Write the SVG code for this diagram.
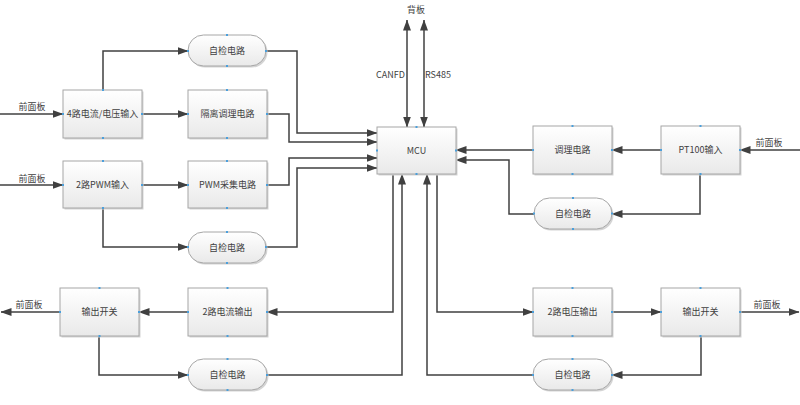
<svg xmlns="http://www.w3.org/2000/svg" width="800" height="405" viewBox="0 0 800 405">
<defs>
<linearGradient id="g" x1="0" y1="0" x2="0" y2="1">
<stop offset="0" stop-color="#ffffff"/>
<stop offset="1" stop-color="#e9e9e9"/>
</linearGradient>
<marker id="a" markerUnits="userSpaceOnUse" markerWidth="11" markerHeight="9" viewBox="0 0 11 9" refX="10.5" refY="4.5" orient="auto-start-reverse">
<path d="M0,0.5 L11,4.5 L0,8.5 z" fill="#404040"/>
</marker>
<style>
.sh{fill:#d4d4d4}
.b{fill:url(#g);stroke:#a6a6a6;stroke-width:1}
.t{font-family:"Noto Sans CJK SC","Liberation Sans",sans-serif;font-size:9px;fill:#3f3f3f;text-anchor:middle}
.l{font-family:"Noto Sans CJK SC","Liberation Sans",sans-serif;font-size:9px;fill:#3f3f3f}
.c{fill:none;stroke:#404040;stroke-width:1.5}
.p{fill:#4a9fdc}
</style>
</defs>
<rect width="800" height="405" fill="#ffffff"/>

<g id="connectors">
<path class="c" d="M0,114 H63" marker-end="url(#a)"/>
<path class="c" d="M103,90 V51 H188" marker-end="url(#a)"/>
<path class="c" d="M142,114 H188" marker-end="url(#a)"/>
<path class="c" d="M267,51 H297 V133 H377" marker-end="url(#a)"/>
<path class="c" d="M267,114 H289 V142 H377" marker-end="url(#a)"/>
<path class="c" d="M0,185 H63" marker-end="url(#a)"/>
<path class="c" d="M142,185 H188" marker-end="url(#a)"/>
<path class="c" d="M103,209 V247 H188" marker-end="url(#a)"/>
<path class="c" d="M267,185 H289 V158 H377" marker-end="url(#a)"/>
<path class="c" d="M267,247 H297 V168 H377" marker-end="url(#a)"/>
<path class="c" d="M407,20 V127" marker-start="url(#a)" marker-end="url(#a)"/>
<path class="c" d="M424,20 V127" marker-start="url(#a)" marker-end="url(#a)"/>
<path class="c" d="M800,150 H740" marker-end="url(#a)"/>
<path class="c" d="M661,150 H612" marker-end="url(#a)"/>
<path class="c" d="M533,150 H456" marker-end="url(#a)"/>
<path class="c" d="M700,174 V214 H612" marker-end="url(#a)"/>
<path class="c" d="M534,214 H509 V160 H456" marker-end="url(#a)"/>
<path class="c" d="M393,174 V312 H267" marker-end="url(#a)"/>
<path class="c" d="M188,312 H139" marker-end="url(#a)"/>
<path class="c" d="M60,312 H1" marker-end="url(#a)"/>
<path class="c" d="M99,336 V375 H188" marker-end="url(#a)"/>
<path class="c" d="M267,375 H402 V174" marker-end="url(#a)"/>
<path class="c" d="M437,174 V312 H533" marker-end="url(#a)"/>
<path class="c" d="M612,312 H661" marker-end="url(#a)"/>
<path class="c" d="M740,312 H799" marker-end="url(#a)"/>
<path class="c" d="M701,336 V375 H612" marker-end="url(#a)"/>
<path class="c" d="M533,375 H427 V174" marker-end="url(#a)"/>
</g>

<g id="labels">
<text class="t" x="416" y="13">背板</text>
<text class="l" x="405" y="78" text-anchor="end">CANFD</text>
<text class="l" x="425" y="78">RS485</text>
<text class="t" x="32" y="110">前面板</text>
<text class="t" x="32" y="182">前面板</text>
<text class="t" x="769" y="146">前面板</text>
<text class="t" x="29" y="308">前面板</text>
<text class="t" x="767" y="308">前面板</text>
</g>

<g id="n_zijian1">
<rect class="sh" x="189.5" y="36.5" width="78" height="31" rx="15.5"/>
<rect class="b" x="188" y="35" width="78" height="31" rx="15.5"/>
<text class="t" x="227" y="54">自检电路</text>
<rect class="p" x="226" y="34" width="2" height="2"/><rect class="p" x="226" y="65" width="2" height="2"/><rect class="p" x="187" y="50" width="2" height="2"/><rect class="p" x="265" y="50" width="2" height="2"/>
</g>

<g id="n_input4">
<rect class="sh" x="64.5" y="91.5" width="79" height="48"/>
<rect class="b" x="63" y="90" width="79" height="48"/>
<text class="t" x="102.5" y="117">4路电流/电压输入</text>
<rect class="p" x="102" y="89" width="2" height="2"/><rect class="p" x="102" y="137" width="2" height="2"/><rect class="p" x="62" y="113" width="2" height="2"/><rect class="p" x="141" y="113" width="2" height="2"/>
</g>

<g id="n_geli">
<rect class="sh" x="189.5" y="91.5" width="79" height="48"/>
<rect class="b" x="188" y="90" width="79" height="48"/>
<text class="t" x="227.5" y="117">隔离调理电路</text>
<rect class="p" x="226" y="89" width="2" height="2"/><rect class="p" x="226" y="137" width="2" height="2"/><rect class="p" x="187" y="113" width="2" height="2"/><rect class="p" x="266" y="113" width="2" height="2"/>
</g>

<g id="n_pwmin">
<rect class="sh" x="64.5" y="162.5" width="79" height="47"/>
<rect class="b" x="63" y="161" width="79" height="47"/>
<text class="t" x="102.5" y="188">2路PWM输入</text>
<rect class="p" x="102" y="160" width="2" height="2"/><rect class="p" x="102" y="207" width="2" height="2"/><rect class="p" x="62" y="184" width="2" height="2"/><rect class="p" x="141" y="184" width="2" height="2"/>
</g>

<g id="n_pwmcj">
<rect class="sh" x="189.5" y="162.5" width="79" height="47"/>
<rect class="b" x="188" y="161" width="79" height="47"/>
<text class="t" x="227.5" y="188">PWM采集电路</text>
<rect class="p" x="226" y="160" width="2" height="2"/><rect class="p" x="226" y="207" width="2" height="2"/><rect class="p" x="187" y="184" width="2" height="2"/><rect class="p" x="266" y="184" width="2" height="2"/>
</g>

<g id="n_zijian2">
<rect class="sh" x="189.5" y="233.5" width="78" height="31" rx="15.5"/>
<rect class="b" x="188" y="232" width="78" height="31" rx="15.5"/>
<text class="t" x="227" y="251">自检电路</text>
<rect class="p" x="226" y="231" width="2" height="2"/><rect class="p" x="226" y="262" width="2" height="2"/><rect class="p" x="187" y="246" width="2" height="2"/><rect class="p" x="265" y="246" width="2" height="2"/>
</g>

<g id="n_mcu">
<rect class="sh" x="378.5" y="128.5" width="79" height="47"/>
<rect class="b" x="377" y="127" width="79" height="47"/>
<text class="l" x="416.5" y="154" text-anchor="middle">MCU</text>
<rect class="p" x="415.5" y="126" width="2" height="2"/><rect class="p" x="415.5" y="173" width="2" height="2"/><rect class="p" x="376" y="149.5" width="2" height="2"/><rect class="p" x="455" y="149.5" width="2" height="2"/>
</g>

<g id="n_tiaoli">
<rect class="sh" x="534.5" y="127.5" width="79" height="48"/>
<rect class="b" x="533" y="126" width="79" height="48"/>
<text class="t" x="572.5" y="153">调理电路</text>
<rect class="p" x="571.5" y="125" width="2" height="2"/><rect class="p" x="571.5" y="173" width="2" height="2"/><rect class="p" x="532" y="149" width="2" height="2"/><rect class="p" x="611" y="149" width="2" height="2"/>
</g>

<g id="n_pt100">
<rect class="sh" x="662.5" y="127.5" width="79" height="48"/>
<rect class="b" x="661" y="126" width="79" height="48"/>
<text class="t" x="700.5" y="153">PT100输入</text>
<rect class="p" x="699.5" y="125" width="2" height="2"/><rect class="p" x="699.5" y="173" width="2" height="2"/><rect class="p" x="660" y="149" width="2" height="2"/><rect class="p" x="739" y="149" width="2" height="2"/>
</g>

<g id="n_zijian3">
<rect class="sh" x="535.5" y="199.5" width="78" height="31" rx="15.5"/>
<rect class="b" x="534" y="198" width="78" height="31" rx="15.5"/>
<text class="t" x="573" y="217">自检电路</text>
<rect class="p" x="572" y="197" width="2" height="2"/><rect class="p" x="572" y="228" width="2" height="2"/><rect class="p" x="533" y="212.5" width="2" height="2"/><rect class="p" x="611" y="212.5" width="2" height="2"/>
</g>

<g id="n_kaiguanL">
<rect class="sh" x="61.5" y="289.5" width="79" height="48"/>
<rect class="b" x="60" y="288" width="79" height="48"/>
<text class="t" x="99.5" y="315">输出开关</text>
<rect class="p" x="98.5" y="287" width="2" height="2"/><rect class="p" x="98.5" y="335" width="2" height="2"/><rect class="p" x="59" y="311" width="2" height="2"/><rect class="p" x="138" y="311" width="2" height="2"/>
</g>

<g id="n_iout">
<rect class="sh" x="189.5" y="289.5" width="79" height="48"/>
<rect class="b" x="188" y="288" width="79" height="48"/>
<text class="t" x="227.5" y="315">2路电流输出</text>
<rect class="p" x="226.5" y="287" width="2" height="2"/><rect class="p" x="226.5" y="335" width="2" height="2"/><rect class="p" x="187" y="311" width="2" height="2"/><rect class="p" x="266" y="311" width="2" height="2"/>
</g>

<g id="n_zijian4">
<rect class="sh" x="189.5" y="360.5" width="79" height="31" rx="15.5"/>
<rect class="b" x="188" y="359" width="79" height="31" rx="15.5"/>
<text class="t" x="227.5" y="378">自检电路</text>
<rect class="p" x="226.5" y="358" width="2" height="2"/><rect class="p" x="226.5" y="389" width="2" height="2"/><rect class="p" x="187" y="374" width="2" height="2"/><rect class="p" x="266" y="374" width="2" height="2"/>
</g>

<g id="n_vout">
<rect class="sh" x="534.5" y="289.5" width="79" height="48"/>
<rect class="b" x="533" y="288" width="79" height="48"/>
<text class="t" x="572.5" y="315">2路电压输出</text>
<rect class="p" x="571.5" y="287" width="2" height="2"/><rect class="p" x="571.5" y="335" width="2" height="2"/><rect class="p" x="532" y="311" width="2" height="2"/><rect class="p" x="611" y="311" width="2" height="2"/>
</g>

<g id="n_kaiguanR">
<rect class="sh" x="662.5" y="289.5" width="79" height="48"/>
<rect class="b" x="661" y="288" width="79" height="48"/>
<text class="t" x="700.5" y="315">输出开关</text>
<rect class="p" x="699.5" y="287" width="2" height="2"/><rect class="p" x="699.5" y="335" width="2" height="2"/><rect class="p" x="660" y="311" width="2" height="2"/><rect class="p" x="739" y="311" width="2" height="2"/>
</g>

<g id="n_zijian5">
<rect class="sh" x="534.5" y="360.5" width="79" height="31" rx="15.5"/>
<rect class="b" x="533" y="359" width="79" height="31" rx="15.5"/>
<text class="t" x="572.5" y="378">自检电路</text>
<rect class="p" x="571.5" y="358" width="2" height="2"/><rect class="p" x="571.5" y="389" width="2" height="2"/><rect class="p" x="532" y="374" width="2" height="2"/><rect class="p" x="611" y="374" width="2" height="2"/>
</g>
</svg>
